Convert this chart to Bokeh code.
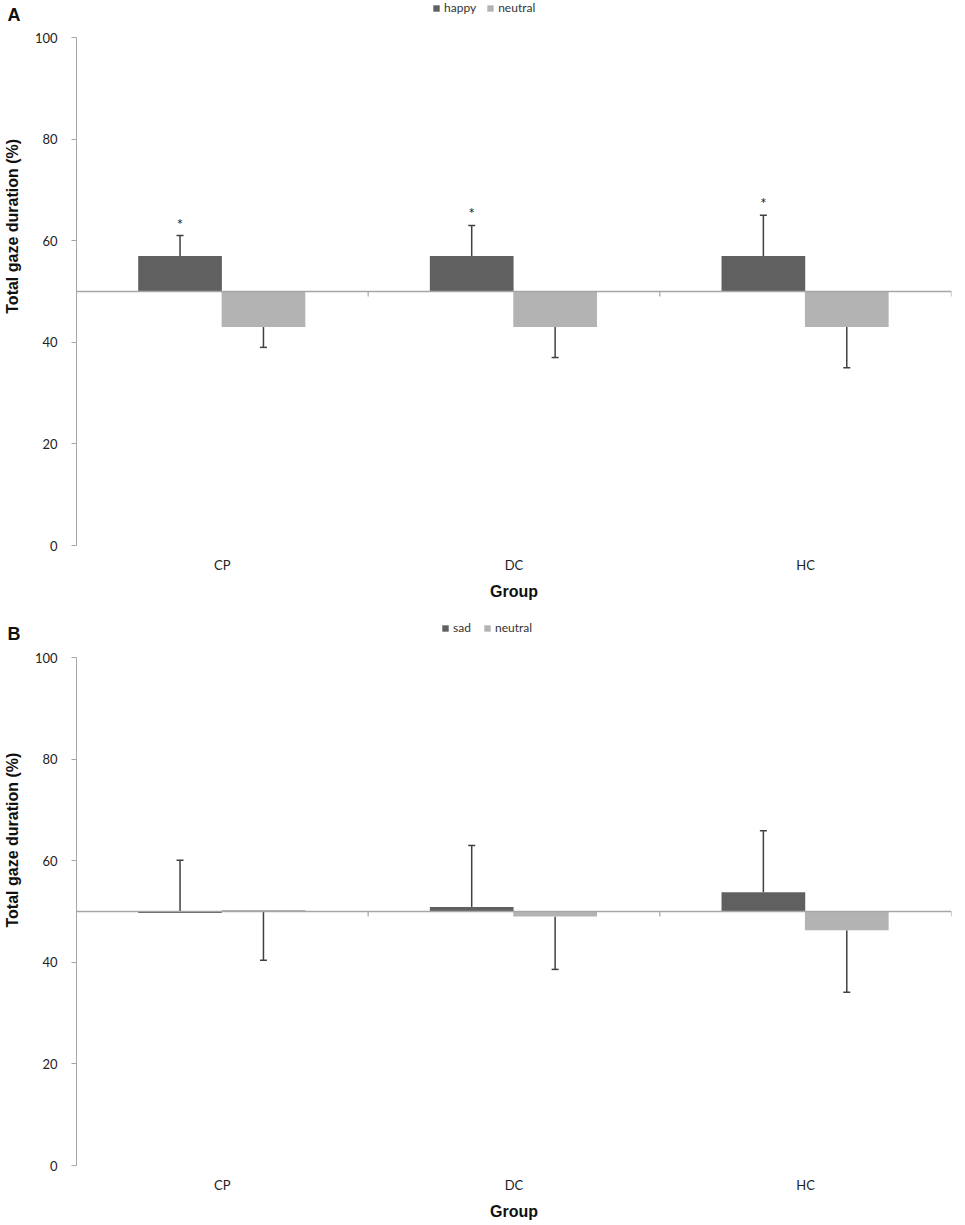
from bokeh.plotting import figure
from bokeh.models import (FactorRange, Range1d, Whisker, TeeHead, ColumnDataSource,
                          Legend, LegendItem, FixedTicker, Span, LinearAxis)
from bokeh.transform import dodge
from bokeh.layouts import column
from bokeh.embed import file_html
from bokeh.resources import INLINE
from bokeh.core.properties import value

groups = ["CP", "DC", "HC"]
y_ticks = [0, 20, 40, 60, 80, 100]
y_title = "Total gaze duration (%)"

# Panel A: happy vs neutral
a_happy = [57, 57, 57]
a_happy_err = [61, 63, 65]
a_neutral = [43, 43, 43]
a_neutral_err = [39, 37, 35]
a_stars = ["*", "*", "*"]

# Panel B: sad vs neutral
b_sad = [49.7, 50.9, 53.8]
b_sad_err = [60.1, 63, 65.9]
b_neutral = [50.3, 49.0, 46.3]
b_neutral_err = [40.4, 38.6, 34.1]
b_stars = ["", "", ""]

baseline = 50
boundaries = [1, 2, 3]

DARK = "#606060"
LIGHT = "#b3b3b3"
AXIS = "#a6a6a6"
ERR = "#404040"
TICK_FONT = "Lato"
TITLE_FONT = "Liberation Sans"
PX_PER_UNIT = 5.08


def panel(letter, letter_y, emo_name, emo, emo_err, neu, neu_err, stars,
          height, top_px, bottom_b, legend_x, legend_drop, title_pad):
    src = ColumnDataSource(dict(group=groups, emo=emo, emo_err=emo_err,
                                neu=neu, neu_err=neu_err, star=stars))
    y_top = 100 + top_px / PX_PER_UNIT
    p = figure(x_range=FactorRange(*groups, range_padding=0, factor_padding=0),
               y_range=Range1d(0, y_top), width=960, height=height, title=None,
               output_backend="svg", toolbar_location=None,
               min_border_left=75, min_border_right=9,
               min_border_top=0, min_border_bottom=bottom_b)
    p.outline_line_color = None
    p.xgrid.visible = False
    p.ygrid.visible = False

    r_emo = p.vbar(x=dodge("group", -0.145, range=p.x_range), top="emo", bottom=baseline,
                   width=0.287, source=src, fill_color=DARK, line_color=None)
    r_neu = p.vbar(x=dodge("group", 0.141, range=p.x_range), top=baseline, bottom="neu",
                   width=0.287, source=src, fill_color=LIGHT, line_color=None)

    p.add_layout(Span(location=baseline, dimension="width", line_color=AXIS, line_width=1.5))
    p.segment(x0=boundaries, y0=[baseline] * 3, x1=boundaries, y1=[baseline - 1] * 3,
              line_color=AXIS, line_width=1.2)

    w1 = Whisker(source=src, base=dodge("group", -0.145, range=p.x_range),
                 lower="emo", upper="emo_err", lower_head=None,
                 upper_head=TeeHead(size=7, line_color=ERR, line_width=1.5),
                 line_color=ERR, line_width=1.5)
    w2 = Whisker(source=src, base=dodge("group", 0.141, range=p.x_range),
                 lower="neu_err", upper="neu", upper_head=None,
                 lower_head=TeeHead(size=7, line_color=ERR, line_width=1.5),
                 line_color=ERR, line_width=1.5)
    p.add_layout(w1)
    p.add_layout(w2)

    p.text(x=dodge("group", -0.145, range=p.x_range), y="emo_err", text="star", source=src,
           text_align="center", text_baseline="bottom", y_offset=-3,
           text_font=value(TICK_FONT), text_font_size="15px", text_color="#222222")

    frame_h = height - bottom_b
    legend = Legend(items=[LegendItem(label=emo_name, renderers=[r_emo]),
                           LegendItem(label="neutral", renderers=[r_neu])],
                    orientation="horizontal", location=(legend_x, frame_h - legend_drop),
                    glyph_width=8, glyph_height=8, label_text_font=TICK_FONT,
                    label_text_font_size="12px", label_text_color="#333333",
                    padding=2, spacing=10, label_standoff=4, border_line_color=None,
                    background_fill_alpha=0, margin=0)
    p.add_layout(legend)

    # inner axis: ticks and numbers
    p.yaxis.ticker = FixedTicker(ticks=y_ticks)
    p.yaxis.bounds = (0, 100)
    p.yaxis.minor_tick_line_color = None
    p.yaxis.major_tick_in = 0
    p.yaxis.major_tick_out = 5
    p.yaxis.axis_line_color = AXIS
    p.yaxis.major_tick_line_color = AXIS
    p.yaxis.major_label_text_font = TICK_FONT
    p.yaxis.major_label_text_font_size = "13px"
    p.yaxis.major_label_text_color = "#222222"
    p.yaxis.major_label_standoff = 14

    # outer axis: panel letter and axis title (title raised above the frame centre)
    lab_axis = LinearAxis(ticker=FixedTicker(ticks=[letter_y]),
                          major_label_overrides={letter_y: letter},
                          axis_line_color=None, major_tick_line_color=None,
                          minor_tick_line_color=None, major_tick_in=0, major_tick_out=0,
                          major_label_standoff=11, major_label_text_font=TITLE_FONT,
                          major_label_text_font_style="bold",
                          major_label_text_font_size="18px",
                          major_label_text_color="#111111",
                          axis_label="\u00a0" * title_pad + y_title,
                          axis_label_text_font=TITLE_FONT,
                          axis_label_text_font_style="bold",
                          axis_label_text_font_size="16px",
                          axis_label_text_color="#111111",
                          axis_label_standoff=-16)
    p.add_layout(lab_axis, "left")

    p.xaxis.axis_line_color = None
    p.xaxis.major_tick_line_color = None
    p.xaxis.major_tick_out = 0
    p.xaxis.major_label_text_font = TICK_FONT
    p.xaxis.major_label_text_font_size = "13px"
    p.xaxis.major_label_text_color = "#222222"
    p.xaxis.major_label_standoff = 11
    p.xaxis.axis_label = "Group"
    p.xaxis.axis_label_text_font = TITLE_FONT
    p.xaxis.axis_label_text_font_style = "bold"
    p.xaxis.axis_label_text_font_size = "16px"
    p.xaxis.axis_label_text_color = "#111111"
    p.xaxis.axis_label_standoff = 7
    return p


pa = panel("A", 104.43, "happy", a_happy, a_happy_err, a_neutral, a_neutral_err, a_stars,
           612, 37, 67, 356, 15, 21)
pb = panel("B", 104.72, "sad", b_sad, b_sad_err, b_neutral, b_neutral_err, b_stars,
           613, 45, 60, 365, 23, 22)

layout = column(pa, pb, spacing=0)
open("out.html", "w").write(file_html(layout, INLINE))
